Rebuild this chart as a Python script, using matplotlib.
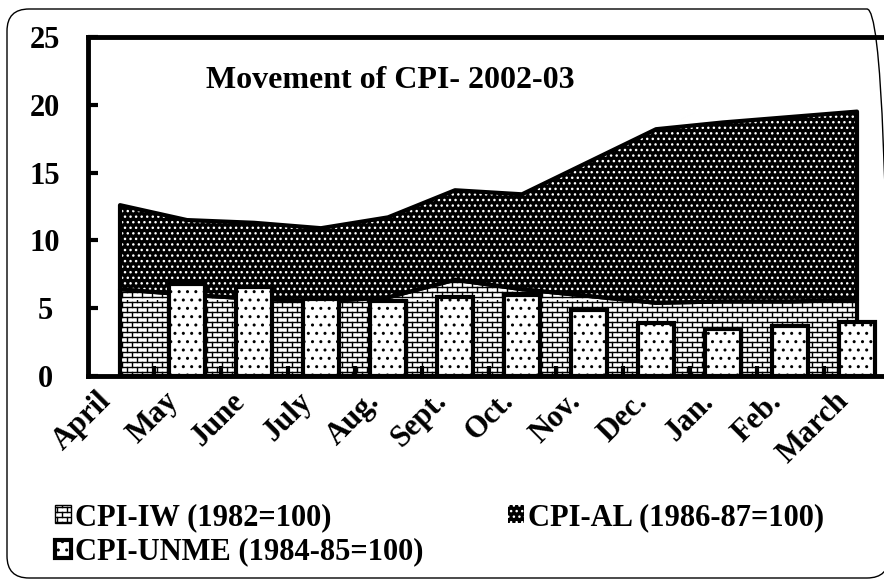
import warnings
import numpy as np
import matplotlib
matplotlib.use("Agg")
import matplotlib.pyplot as plt
import matplotlib.patches as mpatches
import matplotlib.transforms as mtransforms
from matplotlib import hatch as mhatch
from matplotlib.path import Path

warnings.filterwarnings("ignore")

months = ["April", "May", "June", "July", "Aug.", "Sept.", "Oct.", "Nov.",
          "Dec.", "Jan.", "Feb.", "March"]
cpi_iw = [6.4, 6.0, 5.7, 5.5, 5.8, 7.1, 6.4, 5.9, 5.4, 5.5, 5.5, 5.6]
cpi_al = [6.2, 5.5, 5.6, 5.4, 5.9, 6.6, 7.0, 9.9, 12.8, 13.2, 13.6, 13.9]
cpi_unme = [np.nan, 6.8, 6.55, 5.7, 5.55, 5.85, 5.95, 4.9, 3.9, 3.5, 3.7, 3.95]

labels = ["CPI-IW (1982=100)", "CPI-AL (1986-87=100)", "CPI-UNME (1984-85=100)"]
title = "Movement of CPI- 2002-03"


# brick hatch ('b'), matplotlib has none built in
class BrickHatch(mhatch.HatchPatternBase):
    rows = 20
    cols = 10

    def __init__(self, hatch, density):
        self.on = hatch.count("b") > 0
        self.num_vertices = (self.rows * 2 + self.rows * self.cols * 2) if self.on else 0

    def set_vertices_and_codes(self, vertices, codes):
        k = 0
        for i in range(self.rows):
            y = (i + 0.5) / self.rows
            vertices[k] = (0.0, y)
            vertices[k + 1] = (1.0, y)
            codes[k] = Path.MOVETO
            codes[k + 1] = Path.LINETO
            k += 2
            off = 0.25 + 0.5 * (i % 2)
            for j in range(self.cols):
                xx = (j + off) / self.cols
                vertices[k] = (xx, y)
                vertices[k + 1] = (xx, y + 1.0 / self.rows)
                codes[k] = Path.MOVETO
                codes[k + 1] = Path.LINETO
                k += 2


mhatch._hatch_types.append(BrickHatch)

plt.rcParams["font.family"] = ["Liberation Serif", "DejaVu Serif"]
plt.rcParams["font.weight"] = "bold"
plt.rcParams["hatch.linewidth"] = 1.0

fig = plt.figure(figsize=(8.84, 5.81), dpi=100)
ax = fig.add_axes([88 / 884, 205 / 581, 796 / 884, 339 / 581])

x = np.arange(len(months))
iw = np.array(cpi_iw)
top = iw + np.array(cpi_al)

# stacked areas
ax.fill_between(x, 0, iw, facecolor="white", edgecolor="black", hatch="b",
                linewidth=3, zorder=1)
ax.fill_between(x, iw, top, facecolor="black", edgecolor="white", hatch="...",
                linewidth=0, zorder=1)
ax.fill_between(x, iw, top, facecolor="none", edgecolor="black", linewidth=3,
                zorder=1.1)

# columns
ax.bar(x, cpi_unme, width=0.55, facecolor="white", edgecolor="black",
       hatch="..", linewidth=3, zorder=2)

ax.set_xlim(-32 / 67, 764 / 67)
ax.set_ylim(0, 25)
ax.set_yticks(range(0, 26, 5))
ax.set_xticks(x, months, rotation=45, ha="right", va="center",
              rotation_mode="anchor", fontsize=22)
ax.set_xticks(x[:-1] + 0.5, minor=True)
ax.tick_params(axis="x", which="major", length=0, pad=18)
ax.tick_params(axis="x", which="minor", direction="in", length=7, width=3)
ax.tick_params(axis="y", direction="in", length=7, width=3, pad=31, labelsize=22)
for lab in ax.get_yticklabels():
    lab.set_horizontalalignment("center")
shift = mtransforms.ScaledTranslation(-13 / 100, 4 / 100, fig.dpi_scale_trans)
for lab in ax.get_xticklabels():
    lab.set_transform(lab.get_transform() + shift)

for s in ["left", "top", "bottom"]:
    ax.spines[s].set_linewidth(3.5)
ax.spines["right"].set_visible(False)

fig.text(390 / 884, 1 - 80 / 581, title, ha="center", va="center", fontsize=23)

handles = [
    mpatches.Patch(facecolor="white", edgecolor="black", hatch="b", linewidth=1),
    mpatches.Patch(facecolor="white", edgecolor="black", hatch="..", linewidth=3),
    mpatches.Patch(facecolor="black", edgecolor="white", hatch="...", linewidth=0),
]
fig.legend(handles, [labels[0], labels[2], labels[1]], ncol=2, loc="upper left",
           bbox_to_anchor=(55 / 884, 1 - 503 / 581), frameon=False, fontsize=22,
           handlelength=0.52, handleheight=0.52, handletextpad=0.15,
           labelspacing=0.18, columnspacing=2.75, borderpad=0, borderaxespad=0)

# rounded outer frame, right side runs just past the image edge
frame = mpatches.FancyBboxPatch((0.07, 0.03), 8.82, 5.69,
                                boxstyle="round,pad=0,rounding_size=0.22",
                                transform=fig.dpi_scale_trans, facecolor="none",
                                edgecolor="black", linewidth=1, clip_on=False)
fig.add_artist(frame)

fig.savefig("out.png", dpi=100)
